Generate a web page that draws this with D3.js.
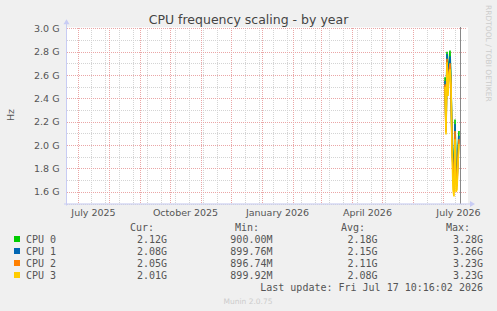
<!DOCTYPE html>
<html>
<head>
<meta charset="utf-8">
<script src="https://cdn.jsdelivr.net/npm/d3@7"></script>
<style>
  body { margin: 0; background: #f0f0f0; }
  svg { display: block; }
  text { font-family: "DejaVu Sans", sans-serif; }
  .mono { font-family: "DejaVu Sans Mono", monospace; font-size: 10px; fill: #555; }
</style>
</head>
<body>
<svg id="chart" width="497" height="311"></svg>
<script>
// data (GHz per day, last 15 days)
var days = ["2026-07-03", "2026-07-04", "2026-07-05", "2026-07-06", "2026-07-07",
            "2026-07-08", "2026-07-09", "2026-07-10", "2026-07-11", "2026-07-12",
            "2026-07-13", "2026-07-14", "2026-07-15", "2026-07-16", "2026-07-17"];
var cpu0 = [2.58, 2.15, 2.80, 2.50, 2.70, 2.81, 2.52, 2.05, 1.85, 1.70, 2.22, 1.75, 1.70, 1.95, 2.12];
var cpu1 = [2.55, 2.13, 2.78, 2.48, 2.68, 2.76, 2.50, 2.02, 1.80, 1.65, 2.18, 1.72, 1.68, 1.92, 2.08];
var cpu2 = [2.52, 2.11, 2.74, 2.45, 2.62, 2.70, 2.48, 1.99, 1.75, 1.60, 2.12, 1.68, 1.65, 1.88, 2.05];
var cpu3 = [2.50, 2.09, 2.71, 2.42, 2.60, 2.65, 2.51, 1.97, 1.62, 1.56, 2.05, 1.60, 1.62, 1.85, 2.01];

var seriesNames = ["CPU 0", "CPU 1", "CPU 2", "CPU 3"];
var seriesColors = ["#00cc00", "#0066b3", "#ff8000", "#ffcc00"];
var curVals = ["2.12G", "2.08G", "2.05G", "2.01G"];
var minVals = ["900.00M", "899.76M", "896.74M", "899.92M"];
var avgVals = ["2.18G", "2.15G", "2.11G", "2.08G"];
var maxVals = ["3.28G", "3.26G", "3.23G", "3.23G"];

var yTicks = [1.6, 1.8, 2.0, 2.2, 2.4, 2.6, 2.8, 3.0];
var xLabelMonths = ["2025-07-01", "2025-10-01", "2026-01-01", "2026-04-01", "2026-07-01"];
var xLabelTexts = ["July 2025", "October 2025", "January 2026", "April 2026", "July 2026"];

var startDate = "2025-06-20", endDate = "2026-07-25", nowDate = "2026-07-18";
var lastUpdate = "Last update: Fri Jul 17 10:16:02 2026";

function d(s) { var p = s.split("-"); return new Date(Date.UTC(+p[0], +p[1] - 1, +p[2])); }

var svg = d3.select("#chart");
var pLeft = 67, pRight = 467, pTop = 28.3, pBottom = 203.5;

var x = d3.scaleUtc().domain([d(startDate), d(endDate)]).range([pLeft, pRight]);
var y = d3.scaleLinear().domain([1.5, 3.0]).range([pBottom, pTop]);

// plot background
svg.append("rect").attr("x", pLeft).attr("y", pTop - 1).attr("width", pRight - pLeft + 1)
    .attr("height", pBottom - pTop + 1).attr("fill", "#fff");

var grid = svg.append("g").attr("shape-rendering", "crispEdges");

// minor vertical grid (every two weeks)
var minorX = d3.utcDay.range(d("2025-07-14"), d(endDate), 14);
grid.selectAll(".vmin").data(minorX).enter().append("line")
    .attr("x1", function (t) { return Math.round(x(t)) + 0.5; })
    .attr("x2", function (t) { return Math.round(x(t)) + 0.5; })
    .attr("y1", pTop).attr("y2", pBottom)
    .attr("stroke", "#d4d4d4").attr("stroke-dasharray", "1,1");

// minor horizontal grid
var minorY = d3.range(1.5, 3.001, 0.1);
grid.selectAll(".hmin").data(minorY).enter().append("line")
    .attr("x1", pLeft).attr("x2", pRight)
    .attr("y1", function (v) { return Math.round(y(v)) + 0.5; })
    .attr("y2", function (v) { return Math.round(y(v)) + 0.5; })
    .attr("stroke", "#d4d4d4").attr("stroke-dasharray", "1,1");

// major vertical grid (months)
var months = d3.utcMonth.range(d("2025-07-01"), d(endDate));
grid.selectAll(".vmaj").data(months).enter().append("line")
    .attr("x1", function (t) { return Math.round(x(t)) + 0.5; })
    .attr("x2", function (t) { return Math.round(x(t)) + 0.5; })
    .attr("y1", pTop).attr("y2", pBottom)
    .attr("stroke", "#eaa6a6").attr("stroke-dasharray", "1,1");

// major horizontal grid
grid.selectAll(".hmaj").data(yTicks).enter().append("line")
    .attr("x1", pLeft).attr("x2", pRight)
    .attr("y1", function (v) { return Math.round(y(v)) + 0.5; })
    .attr("y2", function (v) { return Math.round(y(v)) + 0.5; })
    .attr("stroke", "#eaa6a6").attr("stroke-dasharray", "1,1");

// series lines
var series = [cpu0, cpu1, cpu2, cpu3];
var line = d3.line()
    .x(function (v, i) { return x(d(days[i])); })
    .y(function (v) { return y(v); });
series.forEach(function (vals, k) {
    svg.append("path").attr("d", line(vals)).attr("fill", "none")
        .attr("stroke", seriesColors[k]).attr("stroke-width", 1.6);
});

// "now" rule
svg.append("line").attr("x1", Math.round(x(d(nowDate))) + 0.5).attr("x2", Math.round(x(d(nowDate))) + 0.5)
    .attr("y1", pTop - 1).attr("y2", pBottom).attr("stroke", "#888").attr("shape-rendering", "crispEdges");

// axes
var axisColor = "#c8ccf4";
svg.append("line").attr("x1", pLeft - 0.5).attr("x2", pLeft - 0.5).attr("y1", pTop - 5).attr("y2", pBottom + 2)
    .attr("stroke", axisColor);
svg.append("line").attr("x1", pLeft - 3).attr("x2", pRight + 4).attr("y1", pBottom + 0.5).attr("y2", pBottom + 0.5)
    .attr("stroke", axisColor);
svg.append("path").attr("d", "M" + (pLeft - 3.5) + "," + (pTop - 4) + "L" + (pLeft - 0.5) + "," + (pTop - 9) + "L" + (pLeft + 2.5) + "," + (pTop - 4) + "Z")
    .attr("fill", axisColor);
svg.append("path").attr("d", "M" + (pRight + 3) + "," + (pBottom - 2.5) + "L" + (pRight + 8) + "," + (pBottom + 0.5) + "L" + (pRight + 3) + "," + (pBottom + 3.5) + "Z")
    .attr("fill", axisColor);

// y labels
svg.selectAll(".ylab").data(yTicks).enter().append("text")
    .attr("x", 59.5).attr("y", function (v) { return y(v) + 3.5; })
    .attr("text-anchor", "end").attr("font-size", "9.5px").attr("fill", "#555")
    .text(function (v) { return v.toFixed(1) + " G"; });

// x labels (centred half a month after month start)
svg.selectAll(".xlab").data(xLabelMonths).enter().append("text")
    .attr("x", function (m) { return x(d(m)) + 15.5; }).attr("y", 215.5)
    .attr("text-anchor", "middle").attr("font-size", "9.5px").attr("fill", "#555")
    .text(function (m, i) { return xLabelTexts[i]; });

// title
svg.append("text").attr("x", 248.5).attr("y", 24).attr("text-anchor", "middle")
    .attr("font-size", "12.5px").attr("fill", "#444").text("CPU frequency scaling - by year");

// y axis title
svg.append("text").attr("transform", "translate(14,115) rotate(-90)").attr("text-anchor", "middle")
    .attr("font-size", "9.5px").attr("fill", "#555").text("Hz");

// rrdtool watermark
svg.append("text").attr("transform", "translate(486,5) rotate(90)").attr("text-anchor", "start")
    .attr("font-size", "7.5px").attr("fill", "#ccc").text("RRDTOOL / TOBI OETIKER");

// legend
var headers = [["Cur:", 154], ["Min:", 259], ["Avg:", 365], ["Max:", 470]];
headers.forEach(function (h) {
    svg.append("text").attr("class", "mono").attr("x", h[1]).attr("y", 231)
        .attr("text-anchor", "end").text(h[0]);
});
var cols = [[curVals, 167], [minVals, 272.5], [avgVals, 377.5], [maxVals, 483]];
seriesNames.forEach(function (name, i) {
    var yy = 243 + i * 12;
    svg.append("rect").attr("x", 14).attr("y", yy - 7).attr("width", 6).attr("height", 6)
        .attr("fill", seriesColors[i]);
    svg.append("text").attr("class", "mono").attr("x", 26).attr("y", yy).text(name);
    cols.forEach(function (c) {
        svg.append("text").attr("class", "mono").attr("x", c[1]).attr("y", yy)
            .attr("text-anchor", "end").text(c[0][i]);
    });
});
svg.append("text").attr("class", "mono").attr("x", 483).attr("y", 291)
    .attr("text-anchor", "end").text(lastUpdate);

svg.append("text").attr("x", 248).attr("y", 303.5).attr("text-anchor", "middle")
    .attr("font-size", "7.5px").attr("fill", "#ccc").text("Munin 2.0.75");
</script>
</body>
</html>
